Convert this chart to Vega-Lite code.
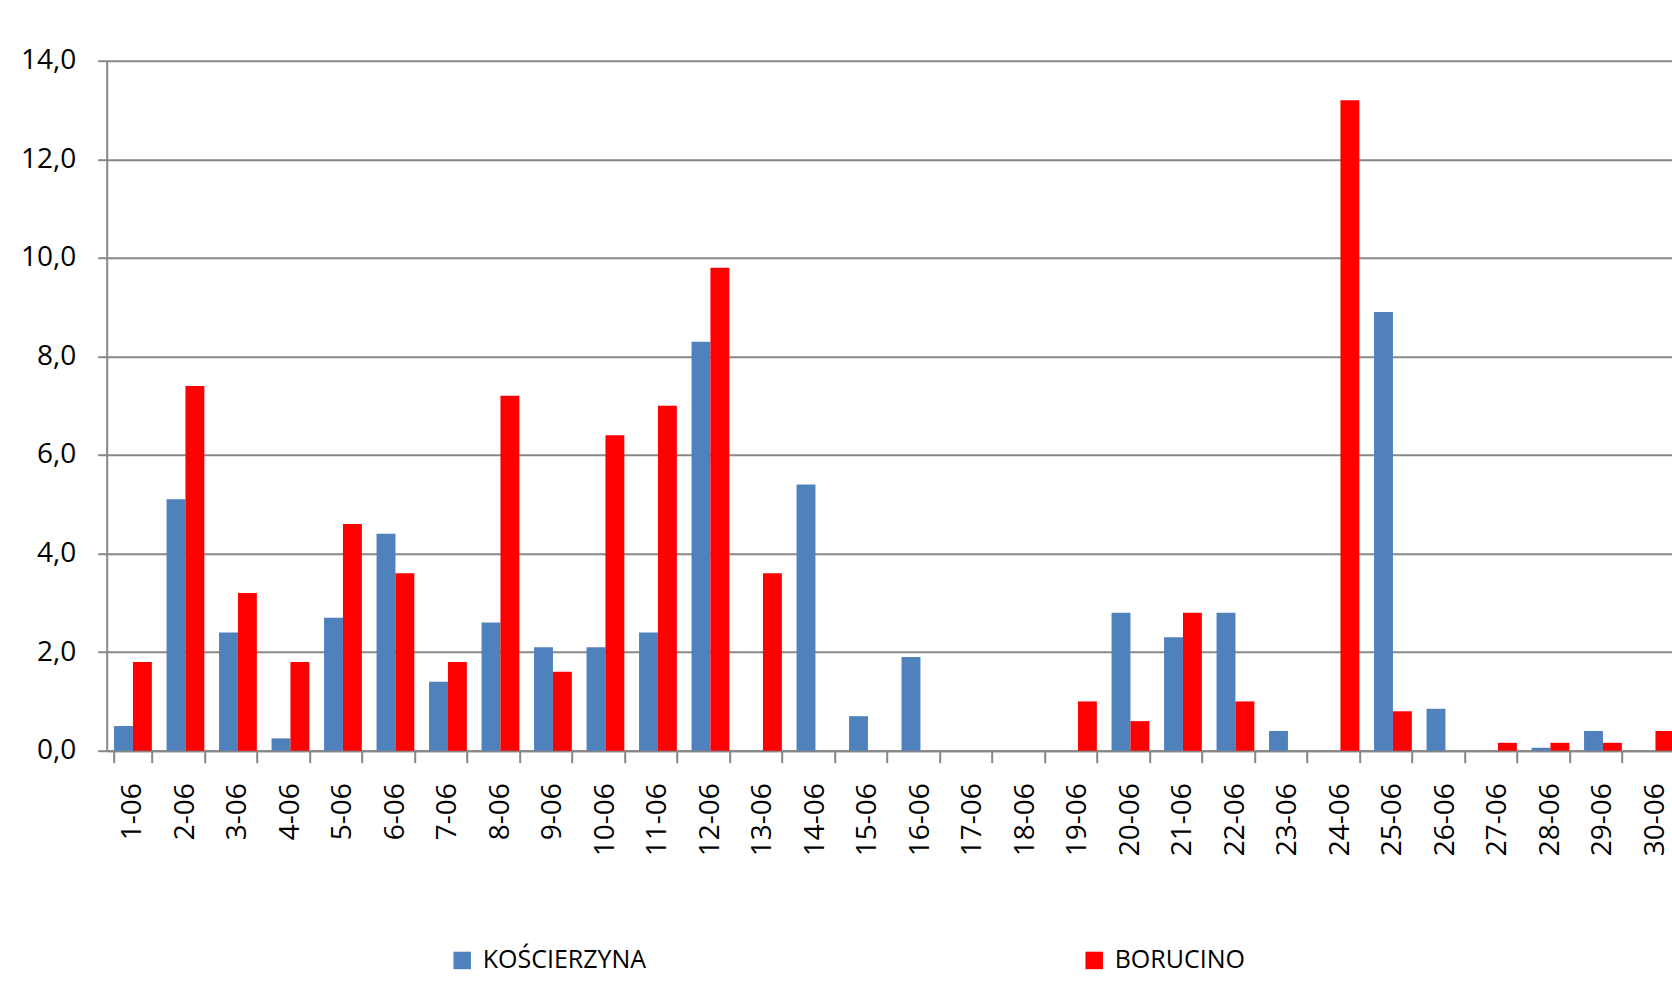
{
  "$schema": "https://vega.github.io/schema/vega-lite/v6.json",
  "autosize": {"type": "none"},
  "padding": {"left": 106.7, "top": 60.7, "right": 0, "bottom": 253.3},
  "width": 1565.3,
  "height": 690,
  "background": "white",
  "config": {"font": "Open Sans", "view": {"stroke": null}},
  "data": {"values": [
    {"day": "1-06", "series": "KOŚCIERZYNA", "value": 0.5}, {"day": "1-06", "series": "BORUCINO", "value": 1.8},
    {"day": "2-06", "series": "KOŚCIERZYNA", "value": 5.1}, {"day": "2-06", "series": "BORUCINO", "value": 7.4},
    {"day": "3-06", "series": "KOŚCIERZYNA", "value": 2.4}, {"day": "3-06", "series": "BORUCINO", "value": 3.2},
    {"day": "4-06", "series": "KOŚCIERZYNA", "value": 0.25}, {"day": "4-06", "series": "BORUCINO", "value": 1.8},
    {"day": "5-06", "series": "KOŚCIERZYNA", "value": 2.7}, {"day": "5-06", "series": "BORUCINO", "value": 4.6},
    {"day": "6-06", "series": "KOŚCIERZYNA", "value": 4.4}, {"day": "6-06", "series": "BORUCINO", "value": 3.6},
    {"day": "7-06", "series": "KOŚCIERZYNA", "value": 1.4}, {"day": "7-06", "series": "BORUCINO", "value": 1.8},
    {"day": "8-06", "series": "KOŚCIERZYNA", "value": 2.6}, {"day": "8-06", "series": "BORUCINO", "value": 7.2},
    {"day": "9-06", "series": "KOŚCIERZYNA", "value": 2.1}, {"day": "9-06", "series": "BORUCINO", "value": 1.6},
    {"day": "10-06", "series": "KOŚCIERZYNA", "value": 2.1}, {"day": "10-06", "series": "BORUCINO", "value": 6.4},
    {"day": "11-06", "series": "KOŚCIERZYNA", "value": 2.4}, {"day": "11-06", "series": "BORUCINO", "value": 7.0},
    {"day": "12-06", "series": "KOŚCIERZYNA", "value": 8.3}, {"day": "12-06", "series": "BORUCINO", "value": 9.8},
    {"day": "13-06", "series": "KOŚCIERZYNA", "value": 0}, {"day": "13-06", "series": "BORUCINO", "value": 3.6},
    {"day": "14-06", "series": "KOŚCIERZYNA", "value": 5.4}, {"day": "14-06", "series": "BORUCINO", "value": 0},
    {"day": "15-06", "series": "KOŚCIERZYNA", "value": 0.7}, {"day": "15-06", "series": "BORUCINO", "value": 0},
    {"day": "16-06", "series": "KOŚCIERZYNA", "value": 1.9}, {"day": "16-06", "series": "BORUCINO", "value": 0},
    {"day": "17-06", "series": "KOŚCIERZYNA", "value": 0}, {"day": "17-06", "series": "BORUCINO", "value": 0},
    {"day": "18-06", "series": "KOŚCIERZYNA", "value": 0}, {"day": "18-06", "series": "BORUCINO", "value": 0},
    {"day": "19-06", "series": "KOŚCIERZYNA", "value": 0}, {"day": "19-06", "series": "BORUCINO", "value": 1.0},
    {"day": "20-06", "series": "KOŚCIERZYNA", "value": 2.8}, {"day": "20-06", "series": "BORUCINO", "value": 0.6},
    {"day": "21-06", "series": "KOŚCIERZYNA", "value": 2.3}, {"day": "21-06", "series": "BORUCINO", "value": 2.8},
    {"day": "22-06", "series": "KOŚCIERZYNA", "value": 2.8}, {"day": "22-06", "series": "BORUCINO", "value": 1.0},
    {"day": "23-06", "series": "KOŚCIERZYNA", "value": 0.4}, {"day": "23-06", "series": "BORUCINO", "value": 0},
    {"day": "24-06", "series": "KOŚCIERZYNA", "value": 0}, {"day": "24-06", "series": "BORUCINO", "value": 13.2},
    {"day": "25-06", "series": "KOŚCIERZYNA", "value": 8.9}, {"day": "25-06", "series": "BORUCINO", "value": 0.8},
    {"day": "26-06", "series": "KOŚCIERZYNA", "value": 0.85}, {"day": "26-06", "series": "BORUCINO", "value": 0},
    {"day": "27-06", "series": "KOŚCIERZYNA", "value": 0}, {"day": "27-06", "series": "BORUCINO", "value": 0.16},
    {"day": "28-06", "series": "KOŚCIERZYNA", "value": 0.06}, {"day": "28-06", "series": "BORUCINO", "value": 0.16},
    {"day": "29-06", "series": "KOŚCIERZYNA", "value": 0.4}, {"day": "29-06", "series": "BORUCINO", "value": 0.16},
    {"day": "30-06", "series": "KOŚCIERZYNA", "value": 0}, {"day": "30-06", "series": "BORUCINO", "value": 0.4}
  ]},
  "mark": {"type": "bar"},
  "encoding": {
    "x": {
      "field": "day", "type": "nominal", "sort": null,
      "scale": {"range": [0, 1575], "paddingInner": 0.28, "paddingOuter": 0.14},
      "axis": {
        "title": null, "labelAngle": -90, "labelAlign": "right", "labelBaseline": "middle",
        "labelFontSize": 28, "labelColor": "#000000", "labelPadding": 20, "labelOverlap": false,
        "tickBand": "extent", "tickSize": 12, "tickWidth": 2, "tickColor": "#878787",
        "domainColor": "#878787", "domainWidth": 2, "grid": false
      }
    },
    "xOffset": {"field": "series", "type": "nominal", "sort": ["KOŚCIERZYNA", "BORUCINO"]},
    "y": {
      "field": "value", "type": "quantitative",
      "scale": {"domain": [0, 14], "nice": false},
      "axis": {
        "title": null, "values": [0, 2, 4, 6, 8, 10, 12, 14],
        "labelExpr": "replace(format(datum.value, '.1f'), '.', ',')",
        "labelFontSize": 28, "labelColor": "#000000", "labelPadding": 22,
        "tickSize": 9, "tickWidth": 2, "tickColor": "#878787",
        "domainColor": "#878787", "domainWidth": 2,
        "grid": true, "gridColor": "#878787", "gridWidth": 2
      }
    },
    "color": {
      "field": "series", "type": "nominal",
      "scale": {"domain": ["KOŚCIERZYNA", "BORUCINO"], "range": ["#4F81BD", "#FF0000"]},
      "legend": {
        "title": null, "orient": "none", "legendX": 343, "legendY": 887,
        "direction": "horizontal", "symbolType": "square", "symbolSize": 306,
        "symbolStrokeWidth": 0, "labelFontSize": 25, "labelColor": "#000000",
        "labelOffset": 8, "labelLimit": 400, "columnPadding": 435
      }
    }
  }
}
